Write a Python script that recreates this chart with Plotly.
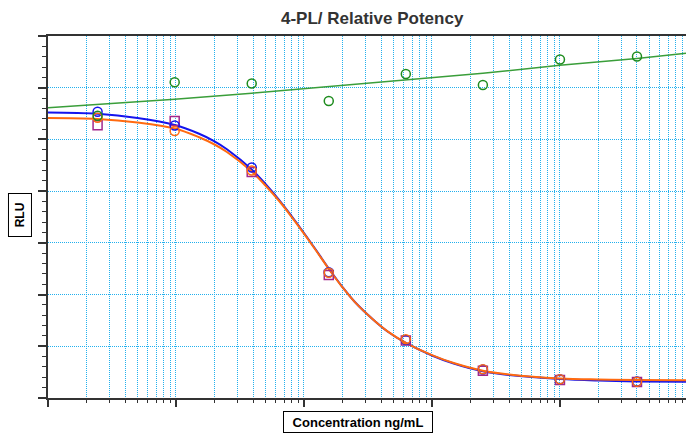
import plotly.graph_objects as go

# ---- data ----
conc_points = [0.244, 0.977, 3.906, 15.625, 62.5, 250, 1000, 4000]

blue_points = [5536, 5269, 4457, 2430, 1122, 551, 362, 319]
orange_points = [5420, 5163, 4399, 2423, 1135, 555, 362, 315]
purple_points = [5273, 5356, 4370, 2378, 1112, 528, 348, 309]
green_points = [5459, 6105, 6081, 5743, 6265, 6052, 6546, 6604]

conc_curve = [0.1, 0.244, 0.5, 0.977, 1.5, 2, 2.5, 3.906, 5, 6.5, 8, 10, 12.5,
              15.625, 20, 25, 35, 45, 62.5, 100, 150, 250, 400, 1000, 2000, 4000, 9660]
blue_curve = [5521, 5496, 5414, 5279, 5115, 4964, 4811, 4419, 4138, 3809, 3519, 3191, 2852,
              2504, 2146, 1856, 1508, 1286, 1064, 822, 661, 516, 445, 367, 337, 321, 313]
orange_curve = [5414, 5395, 5327, 5211, 5047, 4902, 4757, 4380, 4109, 3790, 3504, 3179, 2843,
                2495, 2141, 1853, 1508, 1288, 1067, 828, 671, 528, 456, 379, 358, 348, 342]

conc_green_line = [0.1, 0.244, 0.5, 0.977, 3.906, 15.625, 62.5, 250, 1000, 4000, 9660]
green_line = [5614, 5675, 5718, 5778, 5894, 6024, 6149, 6279, 6435, 6565, 6666]

major_x = [0.1, 1, 10, 100, 1000]
minor_x = [m * d for d in [0.1, 1, 10, 100, 1000] for m in range(2, 10)]

title_text = "4-PL/ Relative Potency"
x_label = "Concentration ng/mL"
y_label = "RLU"

BLUE = "#1414EE"
ORANGE = "#FF6A10"
PURPLE = "#A3288C"
GREEN_LINE = "#3A9E3A"
GREEN_MK = "#1E8C1E"
GRID = "#22B0EE"
AXIS = "#333333"
DASH = "1px,1px"

fig = go.Figure()

fig.add_trace(go.Scatter(x=conc_green_line, y=green_line, mode="lines",
                         line=dict(color=GREEN_LINE, width=1.5), showlegend=False))
fig.add_trace(go.Scatter(x=conc_curve, y=blue_curve, mode="lines",
                         line=dict(color=BLUE, width=2, shape="spline"), showlegend=False))
fig.add_trace(go.Scatter(x=conc_curve, y=orange_curve, mode="lines",
                         line=dict(color=ORANGE, width=2, shape="spline"), showlegend=False))
fig.add_trace(go.Scatter(x=conc_points, y=purple_points, mode="markers",
                         marker=dict(symbol="square-open", size=9, color=PURPLE,
                                     line=dict(width=1.5, color=PURPLE)), showlegend=False))
fig.add_trace(go.Scatter(x=conc_points, y=blue_points, mode="markers",
                         marker=dict(symbol="circle-open", size=9, color=BLUE,
                                     line=dict(width=1.5, color=BLUE)), showlegend=False))
fig.add_trace(go.Scatter(x=conc_points, y=orange_points, mode="markers",
                         marker=dict(symbol="circle-open", size=9, color=ORANGE,
                                     line=dict(width=1.5, color=ORANGE)), showlegend=False))
fig.add_trace(go.Scatter(x=conc_points, y=green_points, mode="markers",
                         marker=dict(symbol="circle-open", size=9, color=GREEN_MK,
                                     line=dict(width=1.5, color=GREEN_MK)), showlegend=False))

fig.update_xaxes(
    type="log", range=[-1, 3.985],
    showline=True, linecolor=AXIS, linewidth=2, mirror=True,
    ticks="outside", ticklen=7, tickwidth=1.5, tickcolor=AXIS,
    tickvals=major_x, showticklabels=False,
    showgrid=True, gridcolor=GRID, gridwidth=1, griddash=DASH,
    zeroline=False,
    minor=dict(tickvals=minor_x, ticks="outside", ticklen=3, tickwidth=1, tickcolor=AXIS,
               showgrid=True, gridcolor=GRID, gridwidth=1, griddash=DASH),
)
fig.update_yaxes(
    range=[0, 7000], tick0=0, dtick=1000,
    showline=True, linecolor=AXIS, linewidth=2, mirror=False,
    ticks="outside", ticklen=8, tickwidth=1.5, tickcolor=AXIS,
    showticklabels=False,
    showgrid=True, gridcolor=GRID, gridwidth=1, griddash=DASH,
    zeroline=False,
    minor=dict(dtick=200, ticks="outside", ticklen=4, tickwidth=1, tickcolor=AXIS, showgrid=False),
)

fig.update_layout(
    width=686, height=434,
    margin=dict(l=48, r=0, t=36, b=36),
    paper_bgcolor="white", plot_bgcolor="white",
    font=dict(family="Liberation Sans, Arial, sans-serif"),
    annotations=[
        dict(text="<b>" + title_text + "</b>", xref="paper", yref="paper",
             x=0.508, y=1.0497, xanchor="center", yanchor="middle", showarrow=False,
             font=dict(size=17, color="#333333")),
        dict(text="<b>" + y_label + "</b>", xref="paper", yref="paper",
             x=-0.0439, y=0.5055, xanchor="center", yanchor="middle", showarrow=False,
             textangle=-90, font=dict(size=12, color="black"),
             bordercolor="black", borderwidth=1, borderpad=2, width=38, height=18),
        dict(text="<b>" + x_label + "</b>", xref="paper", yref="paper",
             x=0.4859, y=-0.0663, xanchor="center", yanchor="middle", showarrow=False,
             font=dict(size=13, color="black"),
             bordercolor="black", borderwidth=1, borderpad=2, width=144, height=16),
    ],
)

fig.write_html("out.html", config={"displayModeBar": False},
               post_script="document.body.style.margin='0';document.body.style.overflow='hidden';")
